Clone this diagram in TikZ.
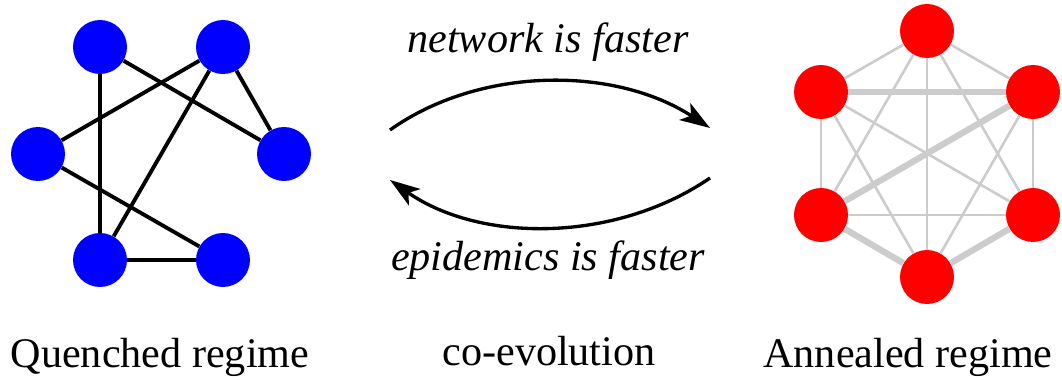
\documentclass[tikz,border=0pt]{standalone}
\usepackage{fontspec}
\setmainfont{LiberationSerif}[Extension=.ttf, UprightFont=*-Regular, ItalicFont=*-Italic, BoldFont=*-Bold]
\usetikzlibrary{arrows.meta}

\begin{document}
\begin{tikzpicture}[x=0.02cm, y=-0.02cm]
        \tikzset{qnode/.style={circle, fill=blue, minimum size=1.08cm, inner sep=0pt},
                 anode/.style={circle, fill=red, minimum size=1.08cm, inner sep=0pt},
                 lbl/.style={font=\fontsize{24}{28}\selectfont, anchor=base}}
        \useasboundingbox (0,0) rectangle (1062,379);

        % quenched network
        \begin{scope}
            \node[qnode] (q1) at (100,47) {};
            \node[qnode] (q2) at (223,47) {};
            \node[qnode] (q3) at (38,154) {};
            \node[qnode] (q4) at (284,154) {};
            \node[qnode] (q5) at (100,260) {};
            \node[qnode] (q6) at (223,260) {};
        \end{scope}

        \begin{scope}[line width=2.2pt]
            \draw (q1) -- (q5);
            \draw (q1) -- (q4);
            \draw (q2) -- (q3);
            \draw (q2) -- (q4);
            \draw (q2) -- (q5);
            \draw (q3) -- (q6);
            \draw (q5) -- (q6);
        \end{scope}

        % annealed network
        \begin{scope}
            \node[anode] (a1) at (927,31) {};
            \node[anode] (a2) at (821,92) {};
            \node[anode] (a3) at (1033,92) {};
            \node[anode] (a4) at (821,215) {};
            \node[anode] (a5) at (1033,215) {};
            \node[anode] (a6) at (927,277) {};
        \end{scope}

        \begin{scope}[black!20, line width=1.5pt]
            \draw (a1) -- (a2);
            \draw (a1) -- (a3);
            \draw (a1) -- (a4);
            \draw (a1) -- (a5);
            \draw (a1) -- (a6);
            \draw (a2) -- (a4);
            \draw (a2) -- (a5);
            \draw (a2) -- (a6);
            \draw (a3) -- (a5);
            \draw (a3) -- (a6);
            \draw (a4) -- (a5);
        \end{scope}
        \begin{scope}[black!20, line width=3.6pt]
            \draw (a2) -- (a3);
            \draw (a3) -- (a4);
            \draw (a4) -- (a6);
            \draw (a5) -- (a6);
        \end{scope}

        % co-evolution arrows
        \coordinate (t1) at (390,130);
        \coordinate (t2) at (710,128);
        \coordinate (b1) at (710,178);
        \coordinate (b2) at (390,180);
        \begin{scope}[line width=1.9pt, -{Stealth[length=6mm, width=4mm, inset=1.5mm]}]
            \draw (t1) .. controls (480,66) and (615,66) .. (t2);
            \draw (b1) .. controls (615,243) and (480,243) .. (b2);
        \end{scope}

        % labels
        \node[lbl] (net) at (548,52) {\itshape network is faster};
        \node[lbl] (epi) at (548,270) {\itshape epidemics is faster};
        \node[lbl] (que) at (160,367) {Quenched regime};
        \node[lbl] (coe) at (549,365) {co-evolution};
        \node[lbl] (ann) at (908,367) {Annealed regime};
\end{tikzpicture}
\end{document}
